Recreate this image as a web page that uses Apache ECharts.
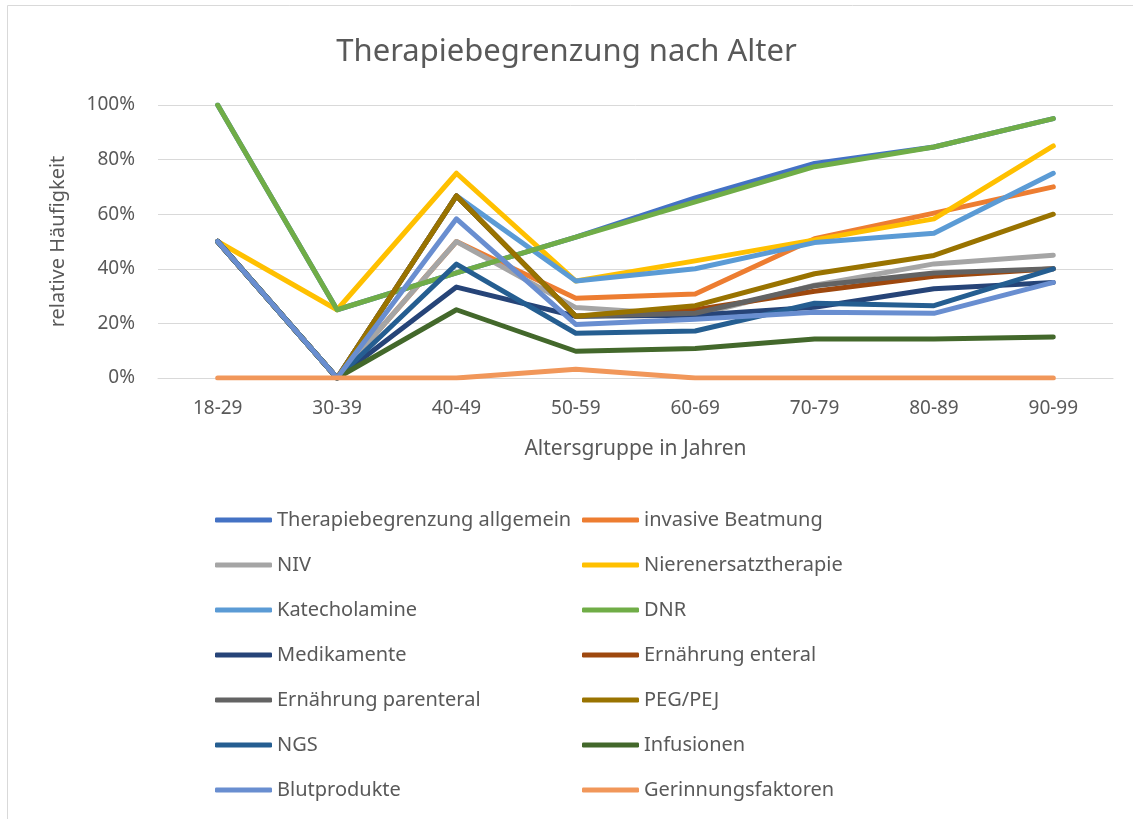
<!DOCTYPE html>
<html>
<head>
<meta charset="utf-8" />
<title>Therapiebegrenzung nach Alter</title>
<script src="https://cdn.jsdelivr.net/npm/echarts@6/dist/echarts.min.js"></script>
<style>
	html,
	body {
		margin: 0;
		padding: 0;
		background: #fff;
	}
	.chart {
		width: 1133px;
		height: 819px;
	}
</style>
</head>
<body>
<div id="chart" class="chart"></div>
<script>
// Altersgruppen
const ageGroups = ["18-29", "30-39", "40-49", "50-59", "60-69", "70-79", "80-89", "90-99"];
const yTicks = [0, 20, 40, 60, 80, 100];

// relative Häufigkeit in %
const allgemein = [100, 25, 38.5, 51.6, 66, 78.6, 84.6, 95];
const invasiveBeatmung = [50, 0, 50, 29.2, 30.8, 51, 60.4, 70];
const niv = [50, 0, 50, 25.8, 23, 34, 41.8, 45];
const nierenersatz = [50, 25, 75, 35.5, 42.9, 50.6, 58.3, 85];
const katecholamine = [50, 0, 66.7, 35.5, 40, 49.6, 53, 75];
const dnr = [100, 25, 38.5, 51.6, 64.5, 77.4, 84.6, 95];
const medikamente = [50, 0, 33.3, 22.6, 23, 25.9, 32.7, 35];
const ernEnteral = [50, 0, 66.7, 22.6, 25, 31.8, 37.3, 40];
const ernParenteral = [50, 0, 66.7, 22.6, 23.7, 33.8, 38.5, 40];
const pegPej = [50, 0, 66.7, 22.6, 26.5, 38.2, 44.9, 60];
const ngs = [50, 0, 41.7, 16.4, 17.2, 27.4, 26.5, 40];
const infusionen = [50, 0, 25, 9.8, 10.8, 14.3, 14.3, 15];
const blutprodukte = [50, 0, 58.3, 19.6, 21.5, 24.1, 23.7, 35];
const gerinnung = [0, 0, 0, 3.2, 0, 0, 0, 0];

const seriesList = [
	{ name: "Therapiebegrenzung allgemein", data: allgemein, color: "#4472C4" },
	{ name: "invasive Beatmung", data: invasiveBeatmung, color: "#ED7D31" },
	{ name: "NIV", data: niv, color: "#A5A5A5" },
	{ name: "Nierenersatztherapie", data: nierenersatz, color: "#FFC000" },
	{ name: "Katecholamine", data: katecholamine, color: "#5B9BD5" },
	{ name: "DNR", data: dnr, color: "#70AD47" },
	{ name: "Medikamente", data: medikamente, color: "#264478" },
	{ name: "Ernährung enteral", data: ernEnteral, color: "#9E480E" },
	{ name: "Ernährung parenteral", data: ernParenteral, color: "#636363" },
	{ name: "PEG/PEJ", data: pegPej, color: "#997300" },
	{ name: "NGS", data: ngs, color: "#255E91" },
	{ name: "Infusionen", data: infusionen, color: "#43682B" },
	{ name: "Blutprodukte", data: blutprodukte, color: "#698ED0" },
	{ name: "Gerinnungsfaktoren", data: gerinnung, color: "#F1975A" },
];

const fontFamily = "'Noto Sans', sans-serif";
const textColor = "#595959";

const legendBase = {
	orient: "vertical",
	top: 505,
	icon: "roundRect",
	itemWidth: 57,
	itemHeight: 5,
	itemGap: 25,
	textStyle: {
		color: textColor,
		fontSize: 20,
		lineHeight: 20,
		fontFamily: fontFamily,
	},
};

const option = {
	animation: false,
	title: {
		text: "Therapiebegrenzung nach Alter",
		left: "center",
		top: 32,
		textStyle: {
			color: textColor,
			fontSize: 31,
			fontWeight: "normal",
			fontFamily: fontFamily,
		},
	},
	legend: [
		Object.assign({}, legendBase, {
			left: 210,
			data: seriesList.filter((s, i) => i % 2 === 0).map(s => s.name),
		}),
		Object.assign({}, legendBase, {
			left: 577,
			data: seriesList.filter((s, i) => i % 2 === 1).map(s => s.name),
		}),
	],
	grid: {
		left: 158,
		right: 20,
		top: 105,
		bottom: 441,
	},
	xAxis: {
		type: "category",
		data: ageGroups,
		boundaryGap: true,
		name: "Altersgruppe in Jahren",
		nameLocation: "middle",
		nameGap: 61,
		nameTextStyle: {
			color: textColor,
			fontSize: 21,
			fontFamily: fontFamily,
		},
		axisLine: {
			lineStyle: { color: "#d9d9d9", width: 1 },
		},
		axisTick: { show: false },
		axisLabel: {
			color: textColor,
			fontSize: 19,
			margin: 21,
			fontFamily: fontFamily,
		},
	},
	yAxis: {
		type: "value",
		min: yTicks[0],
		max: yTicks[yTicks.length - 1],
		interval: yTicks[1] - yTicks[0],
		name: "relative Häufigkeit",
		nameLocation: "middle",
		nameGap: 90,
		nameTextStyle: {
			color: textColor,
			fontSize: 20,
			fontFamily: fontFamily,
		},
		axisLine: { show: false },
		axisTick: { show: false },
		axisLabel: {
			color: textColor,
			fontSize: 19,
			margin: 23,
			fontFamily: fontFamily,
			formatter: "{value}%",
		},
		splitLine: {
			lineStyle: { color: "#d9d9d9", width: 1 },
		},
	},
	graphic: [
		{
			type: "rect",
			shape: { x: 7.5, y: 5.5, width: 1300, height: 1000 },
			style: { fill: "none", stroke: "#d9d9d9", lineWidth: 1 },
			silent: true,
		},
	],
	series: [],
};

seriesList.forEach(item => {
	option.series.push({
		type: "line",
		name: item.name,
		data: item.data,
		color: item.color,
		symbol: "none",
		showSymbol: false,
		lineStyle: {
			width: 5,
			color: item.color,
			cap: "round",
			join: "round",
		},
	});
});

const myEcharts = echarts.init(document.getElementById("chart"));
myEcharts.setOption(option);
</script>
</body>
</html>
